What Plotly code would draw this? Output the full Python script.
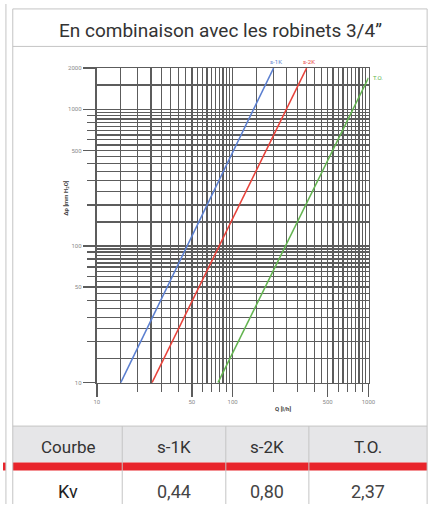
import math
import plotly.graph_objects as go

# ---------------- data ----------------
title_text = "En combinaison avec les robinets 3/4\u201d"
table_header = ["Courbe", "s-1K", "s-2K", "T.O."]
table_row = ["Kv", "0,44", "0,80", "2,37"]

curve_names = ["s-1K", "s-2K", "T.O."]
curve_colors = ["#5b7fd0", "#e8423a", "#63b450"]
q_s1k = [15, 200]
dp_s1k = [10, 2000]
q_s2k = [25.5, 350]
dp_s2k = [10, 2000]
q_to = [78, 1000]
dp_to = [10, 1700]

x_major = [10, 20, 30, 40, 50, 60, 70, 80, 90, 100, 200, 300, 400, 500, 600, 700, 800, 900, 1000]
x_minor = [15, 25, 35, 45, 55, 65, 75, 85, 95, 150, 250, 350, 450, 550, 650, 750, 850, 950]
x_labels = [10, 50, 100, 500, 1000]
y_major = [10, 20, 30, 40, 50, 60, 70, 80, 90, 100, 200, 300, 400, 500, 600, 700, 800, 900, 1000, 2000]
y_minor = [15, 25, 35, 45, 55, 65, 75, 85, 95, 150, 250, 350, 450, 550, 650, 750, 850, 950, 1500]
y_labels = [10, 50, 100, 500, 1000, 2000]

W, H = 440, 507


def px(x):
    return x / W


def py(y):
    return 1 - y / H


fig = go.Figure()

series = [(q_s1k, dp_s1k), (q_s2k, dp_s2k), (q_to, dp_to)]
for (qs, dps), name, col in zip(series, curve_names, curve_colors):
    fig.add_trace(go.Scatter(x=qs, y=dps, mode="lines", name=name,
                             line=dict(color=col, width=1.5), showlegend=False,
                             hoverinfo="skip"))

# invisible trace for overlay axes carrying the labeled ticks
fig.add_trace(go.Scatter(x=[q_s1k[0]], y=[dp_s1k[0]], xaxis="x2", yaxis="y2",
                         mode="markers", marker=dict(opacity=0), showlegend=False,
                         hoverinfo="skip"))

grid_col = "#5c5c5c"
gw = 1.5
xdom = [px(96), px(374)]
ydom = [py(384), py(65)]
xr = [1, 3]
yr = [1, math.log10(2000)]

fig.update_layout(
    width=W, height=H,
    margin=dict(l=0, r=0, t=0, b=0),
    paper_bgcolor="white", plot_bgcolor="white",
    xaxis=dict(type="log", range=xr, domain=xdom, anchor="y",
               tickmode="array", tickvals=x_major, showticklabels=False,
               ticks="outside", ticklen=8, tickcolor=grid_col, tickwidth=gw,
               showgrid=True, gridcolor=grid_col, gridwidth=gw,
               minor=dict(tickmode="array", tickvals=x_minor, showgrid=True,
                          gridcolor=grid_col, gridwidth=gw, ticks=""),
               showline=True, linecolor=grid_col, linewidth=gw, mirror=True,
               zeroline=False, fixedrange=True),
    yaxis=dict(type="log", range=yr, domain=ydom, anchor="x",
               tickmode="array", tickvals=y_major, showticklabels=False,
               ticks="outside", ticklen=8, tickcolor=grid_col, tickwidth=gw,
               showgrid=True, gridcolor=grid_col, gridwidth=gw,
               minor=dict(tickmode="array", tickvals=y_minor, showgrid=True,
                          gridcolor=grid_col, gridwidth=gw, ticks=""),
               showline=True, linecolor=grid_col, linewidth=gw, mirror=True,
               zeroline=False, fixedrange=True),
    xaxis2=dict(type="log", range=xr, domain=xdom, anchor="y2", overlaying="x",
                tickmode="array", tickvals=x_labels, ticktext=[str(v) for v in x_labels],
                ticks="outside", ticklen=13, tickcolor=grid_col, tickwidth=gw,
                tickfont=dict(family="Roboto", size=6, color="#8a8a8a"),
                showgrid=False, zeroline=False, showline=False, fixedrange=True),
    yaxis2=dict(type="log", range=yr, domain=ydom, anchor="x2", overlaying="y",
                tickmode="array", tickvals=y_labels, ticktext=[str(v) for v in y_labels],
                ticks="outside", ticklen=13, tickcolor=grid_col, tickwidth=gw,
                tickfont=dict(family="Roboto", size=6, color="#8a8a8a"),
                showgrid=False, zeroline=False, showline=False, fixedrange=True),
)

ann = []
# curve labels at line ends
for (qs, dps), name, col in zip(series, curve_names, curve_colors):
    if name == "T.O.":
        ann.append(dict(x=math.log10(qs[-1]), y=math.log10(dps[-1]), xref="x", yref="y",
                        text=name, showarrow=False, xanchor="left", yanchor="middle",
                        xshift=3, font=dict(family="Roboto", size=6, color=col)))
    else:
        ann.append(dict(x=math.log10(qs[-1]), y=math.log10(dps[-1]), xref="x", yref="y",
                        text=name, showarrow=False, xanchor="center", yanchor="bottom",
                        xshift=2, yshift=1, font=dict(family="Roboto", size=6, color=col)))


def centered(x, y, text, **kw):
    d = dict(x=px(x), y=py(y), xref="paper", yref="paper", text=text, showarrow=False,
             xanchor="center", yanchor="middle")
    d.update(kw)
    return d


# axis titles
ann.append(centered(65, 197, "<b>\u0394p [mm H<sub>2</sub>O]</b>", textangle=-90,
                    font=dict(family="Roboto", size=6, color="#444444")))
ann.append(centered(287, 410, "<b>Q [l/h]</b>",
                    font=dict(family="Roboto", size=6, color="#444444")))

# title
ann.append(centered(223, 27, title_text, font=dict(family="Roboto", size=19, color="#333333")))

# table text
col_edges = [10, 122, 228, 313, 434]
for i in range(4):
    cx = (col_edges[i] + col_edges[i + 1]) / 2
    ann.append(centered(cx, 449, table_header[i],
                        font=dict(family="Roboto", size=17, color="#333333")))
    ann.append(centered(cx, 494, table_row[i],
                        font=dict(family="Roboto", size=18,
                                  color="#222222" if i == 0 else "#444444")))

shapes = []
bc = "#c4c4c4"
# header background and red band
shapes.append(dict(type="rect", xref="paper", yref="paper", x0=px(10), x1=px(434), y0=py(465), y1=py(428),
                   fillcolor="#e6e6e8", line=dict(width=0), layer="below"))
shapes.append(dict(type="rect", xref="paper", yref="paper", x0=px(10), x1=px(434), y0=py(473), y1=py(465),
                   fillcolor="#e8242b", line=dict(width=0), layer="above"))
shapes.append(dict(type="rect", xref="paper", yref="paper", x0=px(0), x1=px(3), y0=py(473), y1=py(465),
                   fillcolor="#e8242b", line=dict(width=0), layer="above"))
# horizontal borders
for yy in [5, 43, 428]:
    shapes.append(dict(type="line", xref="paper", yref="paper", x0=px(10), x1=px(434), y0=py(yy), y1=py(yy),
                       line=dict(color=bc, width=1)))
# vertical borders
shapes.append(dict(type="line", xref="paper", yref="paper", x0=px(3), x1=px(3), y0=py(0), y1=py(507),
                   line=dict(color=bc, width=1)))
for xx in [10, 434]:
    shapes.append(dict(type="line", xref="paper", yref="paper", x0=px(xx), x1=px(xx), y0=py(5), y1=py(507),
                       line=dict(color=bc, width=1)))
for xx in col_edges[1:-1]:
    shapes.append(dict(type="line", xref="paper", yref="paper", x0=px(xx), x1=px(xx), y0=py(428), y1=py(507),
                       line=dict(color=bc, width=1)))

fig.update_layout(annotations=ann, shapes=shapes)

fig.write_html("out.html", config=dict(displayModeBar=False, staticPlot=True),
               post_script="document.body.style.margin='0';document.body.style.overflow='hidden';")
